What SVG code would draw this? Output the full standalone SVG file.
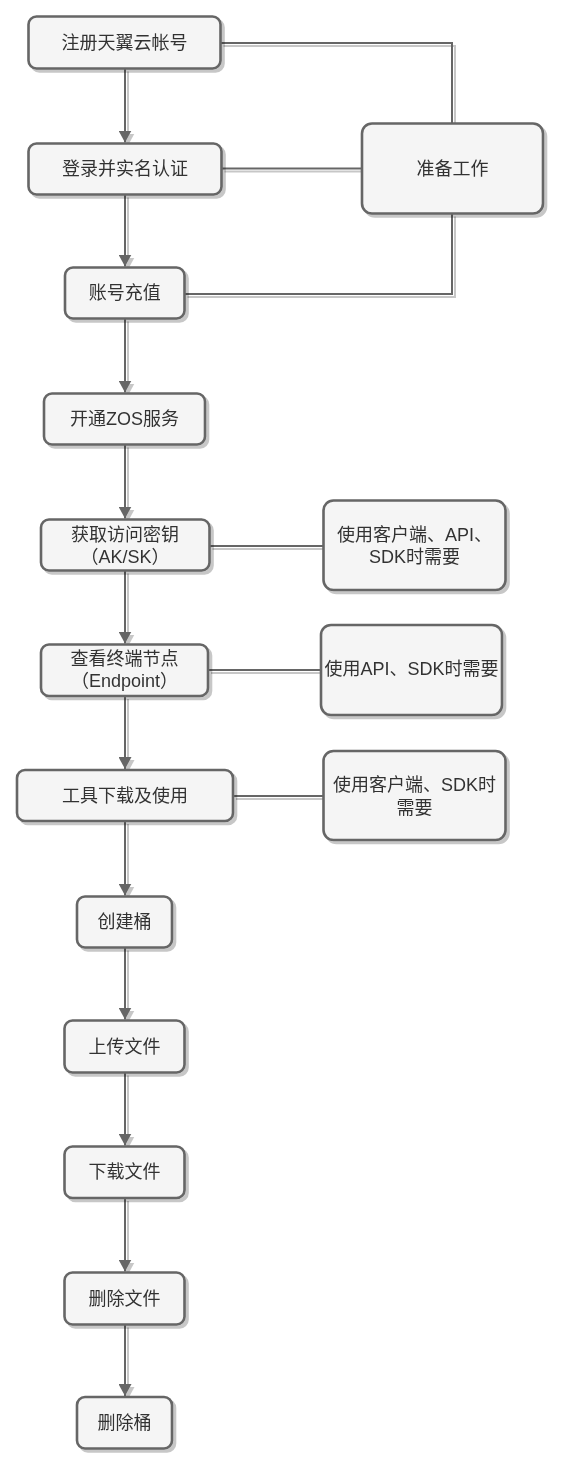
<svg xmlns="http://www.w3.org/2000/svg" width="561" height="1469" viewBox="0 0 561 1469">
<style>
.box{fill:#f5f5f5;stroke:#666666;stroke-width:2.6}
.lbl{font-family:"Liberation Sans","Noto Sans CJK SC",sans-serif;font-size:18px;fill:#333333;text-anchor:middle;dominant-baseline:central}
.edge{fill:none;stroke:#666666;stroke-width:2}
</style>
<defs>
<filter id="sh" x="-20%" y="-20%" width="140%" height="140%">
<feOffset in="SourceAlpha" dx="3" dy="3" result="o"/>
<feGaussianBlur in="o" stdDeviation="0.7" result="b"/>
<feFlood flood-color="#000000" flood-opacity="0.22"/>
<feComposite in2="b" operator="in" result="s"/>
<feMerge><feMergeNode in="s"/><feMergeNode in="SourceGraphic"/></feMerge>
</filter>
<marker id="arr" markerUnits="userSpaceOnUse" markerWidth="13" markerHeight="13" viewBox="0 0 13 13" refX="12" refY="6.5" orient="auto">
<path d="M0,0 L12,6.5 L0,13 Z" fill="#666666"/>
</marker>
</defs>
<g id="connectors" filter="url(#sh)">
<path class="edge" d="M125,68.5 V142.5" marker-end="url(#arr)"/>
<path class="edge" d="M125,194.5 V266.5" marker-end="url(#arr)"/>
<path class="edge" d="M125,318.5 V392.5" marker-end="url(#arr)"/>
<path class="edge" d="M125,444.5 V518.5" marker-end="url(#arr)"/>
<path class="edge" d="M125,570.5 V643.5" marker-end="url(#arr)"/>
<path class="edge" d="M125,696 V769" marker-end="url(#arr)"/>
<path class="edge" d="M125,821 V895.5" marker-end="url(#arr)"/>
<path class="edge" d="M125,947.5 V1019.5" marker-end="url(#arr)"/>
<path class="edge" d="M125,1072.5 V1145.5" marker-end="url(#arr)"/>
<path class="edge" d="M125,1198 V1271.5" marker-end="url(#arr)"/>
<path class="edge" d="M125,1324.5 V1396" marker-end="url(#arr)"/>
<path class="edge" d="M220.5,43 H452 V123.5"/>
<path class="edge" d="M221.5,168.5 H362"/>
<path class="edge" d="M184.5,294 H452 V213.5"/>
<path class="edge" d="M209.5,546 H323.5"/>
<path class="edge" d="M208,670 H321"/>
<path class="edge" d="M233,796 H323.5"/>
</g>
<g id="n1" filter="url(#sh)"><rect class="box" x="28.5" y="16.5" width="192" height="52" rx="8"/><text class="lbl" x="124.5" y="42.5">注册天翼云帐号</text></g>
<g id="n2" filter="url(#sh)"><rect class="box" x="28.5" y="143.5" width="193" height="51" rx="8"/><text class="lbl" x="125" y="169">登录并实名认证</text></g>
<g id="n3" filter="url(#sh)"><rect class="box" x="65" y="267.5" width="119.5" height="51" rx="8"/><text class="lbl" x="124.75" y="293">账号充值</text></g>
<g id="prep" filter="url(#sh)"><rect class="box" x="362" y="123.5" width="181" height="90" rx="10"/><text class="lbl" x="452.5" y="168.5">准备工作</text></g>
<g id="n4" filter="url(#sh)"><rect class="box" x="44" y="393.5" width="161" height="51" rx="8"/><text class="lbl" x="124.5" y="419">开通ZOS服务</text></g>
<g id="n5" filter="url(#sh)"><rect class="box" x="41" y="519.5" width="168.5" height="51" rx="8"/><text class="lbl" x="125" y="534.5"><tspan x="125" y="534.5">获取访问密钥</tspan><tspan x="125" y="556.5">（AK/SK）</tspan></text></g>
<g id="sideA" filter="url(#sh)"><rect class="box" x="323.5" y="500.5" width="182" height="89.5" rx="10"/><text class="lbl" x="414.5" y="534.5"><tspan x="414.5" y="534.5">使用客户端、API、</tspan><tspan x="414.5" y="556.5">SDK时需要</tspan></text></g>
<g id="n6" filter="url(#sh)"><rect class="box" x="41" y="644.5" width="167" height="51.5" rx="8"/><text class="lbl" x="124.5" y="658.5"><tspan x="124.5" y="658.5">查看终端节点</tspan><tspan x="124.5" y="681">（Endpoint）</tspan></text></g>
<g id="sideB" filter="url(#sh)"><rect class="box" x="321" y="625" width="181" height="90" rx="10"/><text class="lbl" x="411.5" y="668.5">使用API、SDK时需要</text></g>
<g id="n7" filter="url(#sh)"><rect class="box" x="17" y="770" width="216" height="51" rx="8"/><text class="lbl" x="125" y="796">工具下载及使用</text></g>
<g id="sideC" filter="url(#sh)"><rect class="box" x="323.5" y="751" width="182" height="89" rx="10"/><text class="lbl" x="414.5" y="785"><tspan x="414.5" y="785">使用客户端、SDK时</tspan><tspan x="414.5" y="808">需要</tspan></text></g>
<g id="n8" filter="url(#sh)"><rect class="box" x="77" y="896.5" width="95" height="51" rx="8"/><text class="lbl" x="124.5" y="922">创建桶</text></g>
<g id="n9" filter="url(#sh)"><rect class="box" x="64.5" y="1020.5" width="120" height="52" rx="8"/><text class="lbl" x="124.5" y="1046.5">上传文件</text></g>
<g id="n10" filter="url(#sh)"><rect class="box" x="64.5" y="1146.5" width="120" height="51.5" rx="8"/><text class="lbl" x="124.5" y="1172">下载文件</text></g>
<g id="n11" filter="url(#sh)"><rect class="box" x="64.5" y="1272.5" width="120" height="52" rx="8"/><text class="lbl" x="124.5" y="1298.5">删除文件</text></g>
<g id="n12" filter="url(#sh)"><rect class="box" x="77" y="1397" width="95" height="51.5" rx="8"/><text class="lbl" x="124.5" y="1423">删除桶</text></g>
</svg>
